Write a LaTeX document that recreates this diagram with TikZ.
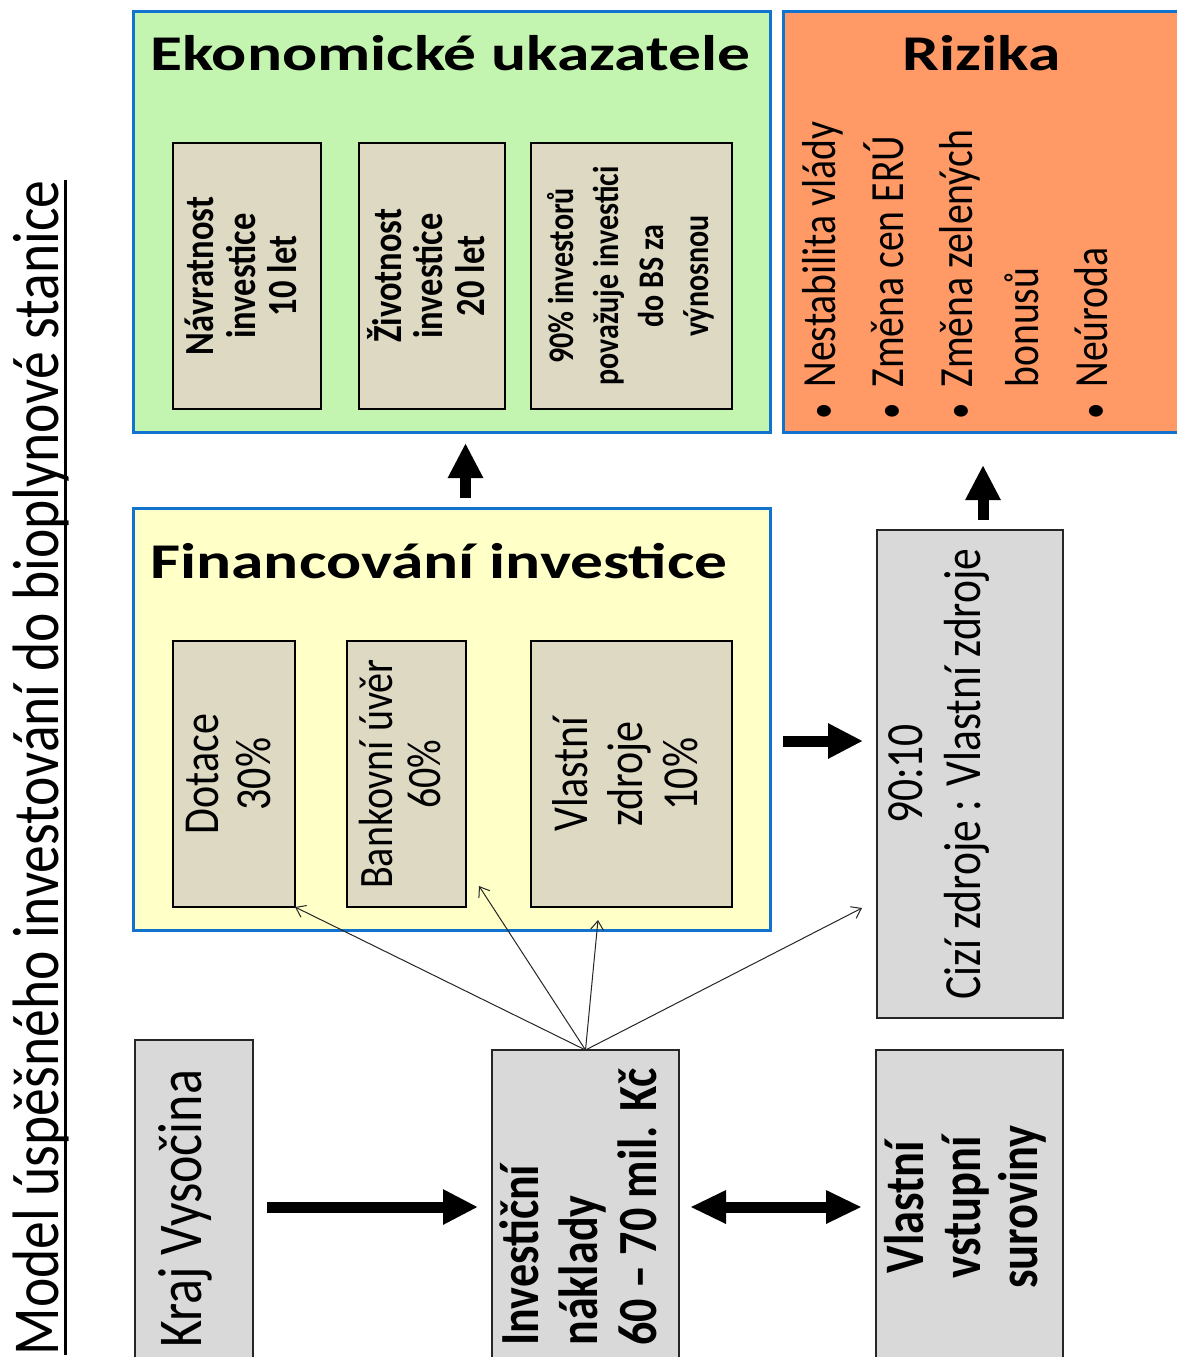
\documentclass[tikz,border=0pt]{standalone}
\usepackage{fontspec}
\setmainfont{Carlito}
\usepackage{graphicx}
\usetikzlibrary{arrows.meta}
\definecolor{bordblue}{RGB}{17,115,205}
\definecolor{greenc}{RGB}{195,245,176}
\definecolor{yellowc}{RGB}{255,255,200}
\definecolor{orangec}{RGB}{255,153,102}
\definecolor{tanc}{RGB}{221,217,195}
\definecolor{grayc}{RGB}{217,217,217}
% #1 stretch, #2 size, #3 baselineskip, #4 column align, #5 font cmd, #6 content
\newcommand{\vt}[6]{\rotatebox{90}{\scalebox{1}[#1]{\fontsize{#2}{#3}\selectfont#5\begin{tabular}{@{}#4@{}}#6\end{tabular}}}}
\newcommand{\hd}[1]{\scalebox{1.31}[1]{\fontsize{50}{60}\selectfont\bfseries #1}}
\newcommand{\rl}[1]{\scalebox{1}[1.2]{\fontsize{39.7}{48}\selectfont #1}}
\newcommand{\bul}{{\fontsize{33}{40}\selectfont •}}
\newcommand{\myul}[1]{\setbox0\hbox{#1}\rlap{\rule[-8pt]{\wd0}{2.5pt}}\box0}
\begin{document}
\begin{tikzpicture}[x=1pt,y=1pt,
  bigbox/.style={draw=bordblue, line width=3pt, rectangle, inner sep=0pt, outer sep=0pt, anchor=north west},
  inbox/.style={draw=black, line width=1.3pt, fill=tanc, rectangle, inner sep=0pt, outer sep=0pt, anchor=north west},
  graybox/.style={draw=black!85, line width=1.5pt, fill=grayc, rectangle, inner sep=0pt, outer sep=0pt, anchor=north west},
  blockarrow/.style={line width=11pt, -{Triangle[length=35pt,width=33pt]}},
  dblarrow/.style={line width=11pt, {Triangle[length=36pt,width=31pt]}-{Triangle[length=36pt,width=31pt]}},
  thinarrow/.style={line width=1pt, draw=black!85, -{Straight Barb[length=9pt,width=13pt,line width=1pt]}},
  rline/.style={rotate=90, anchor=base west, inner sep=0pt}
]
\useasboundingbox (0,0) rectangle (1177,-1357);
\fill[white] (0,0) rectangle (1177,-1357);
\clip (0,0) rectangle (1177,-1357);

% title
\node[rotate=90, anchor=base east, inner sep=0pt] (title) at (58,-180)
  {\scalebox{1}[1.18]{\fontsize{55.6}{66}\selectfont\myul{Model úspěšného investování do bioplynové stanice}}};

% Ekonomicke ukazatele
\node[bigbox, fill=greenc, minimum width=637, minimum height=421] (eko) at (133,-11) {};
\node[anchor=base west, inner sep=0pt] (ekoT) at (150,-70) {\hd{Ekonomické ukazatele}};
\node[inbox, minimum width=148, minimum height=266] (nav) at (173,-143)
  {\vt{1.2}{34.5}{34}{c}{\bfseries}{Návratnost\\investice\\10 let}};
\node[inbox, minimum width=146, minimum height=266] (ziv) at (359,-143)
  {\vt{1.2}{34.5}{34}{c}{\bfseries}{Životnost\\investice\\20 let}};
\node[inbox, minimum width=201, minimum height=266] (proc) at (531,-143)
  {\vt{1.2}{30}{37.5}{c}{\bfseries}{90\% investorů\\považuje investici\\do BS za\\výnosnou}};

% Rizika
\node[bigbox, fill=orangec, minimum width=402, minimum height=421] (riz) at (783,-11) {};
\node[anchor=base, inner sep=0pt] (rizT) at (981.5,-70) {\hd{Rizika}};
\node[rline] (r1) at (835,-420) {\rl{\bul\hspace{0.4em}Nestabilita vlády}};
\node[rline] (r2) at (903,-420) {\rl{\bul\hspace{0.4em}Změna cen ERÚ}};
\node[rline] (r3) at (972,-420) {\rl{\bul\hspace{0.4em}Změna zelených}};
\node[rline] (r4) at (1038,-420) {\rl{\phantom{\bul}\hspace{0.4em}bonusů}};
\node[rline] (r5) at (1107,-420) {\rl{\bul\hspace{0.4em}Neúroda}};

% Financovani investice
\node[bigbox, fill=yellowc, minimum width=637, minimum height=422] (fin) at (133,-508) {};
\node[anchor=base west, inner sep=0pt] (finT) at (150,-578) {\hd{Financování investice}};
\node[inbox, minimum width=122, minimum height=266] (dot) at (173,-641)
  {\vt{1.2}{42}{44}{c}{}{Dotace\\30\%}};
\node[inbox, minimum width=119, minimum height=266] (bank) at (347,-641)
  {\vt{1.2}{40}{40}{c}{}{Bankovní úvěr\\60\%}};
\node[inbox, minimum width=201, minimum height=266] (vz) at (531,-641)
  {\vt{1.2}{42}{46}{c}{}{Vlastní\\zdroje\\10\%}};

% 90:10
\node[graybox, minimum width=186, minimum height=488] (pom) at (877,-530) {};
\node[inner sep=0pt] (pomT) at ([xshift=-30pt]pom.center)
  {\vt{1.2}{43.5}{48}{c}{}{90:10\\Cizí zdroje : Vlastní zdroje}};

% bottom row
\node[graybox, minimum width=118, minimum height=334] (kraj) at (135,-1040) {};
\node[inner sep=0pt] (krajT) at ([xshift=-7pt,yshift=-2pt]kraj.center)
  {\vt{1.2}{52}{60}{c}{}{Kraj Vysočina}};
\node[graybox, minimum width=187, minimum height=314] (inv) at (492,-1050)
  {\vt{1.2}{46}{49}{l}{\bfseries}{Investiční\\náklady\\60 – 70 mil. Kč}};
\node[graybox, minimum width=187, minimum height=314] (sur) at (876,-1050)
  {\vt{1.2}{46.5}{47.5}{c}{\bfseries}{Vlastní\\vstupní\\suroviny}};

% block arrows
\draw[blockarrow, shorten <=10pt, shorten >=11pt] ([xshift=14pt]fin.north) -- ([xshift=14pt]eko.south);
\draw[blockarrow, shorten <=10pt, shorten >=33pt] ([xshift=13pt]pom.north) -- ([xshift=13pt]pom.north |- riz.south);
\draw[blockarrow, shorten <=13pt, shorten >=14pt] ([yshift=-22pt]fin.east) -- ([yshift=-22pt]fin.east -| pom.west);
\draw[blockarrow, shorten <=14pt, shorten >=14pt] (kraj.east) -- (inv.west);
\draw[dblarrow, shorten <=11pt, shorten >=14pt] (inv.east) -- (sur.west);

% thin arrows
\coordinate (tb) at (479,-886);
\coordinate (tv) at (598,-920);
\coordinate (tp) at (862,-908);
\draw[thinarrow] (inv.north) -- (dot.south east);
\draw[thinarrow] (inv.north) -- (tb);
\draw[thinarrow] (inv.north) -- (tv);
\draw[thinarrow] (inv.north) -- (tp);
\end{tikzpicture}
\end{document}
